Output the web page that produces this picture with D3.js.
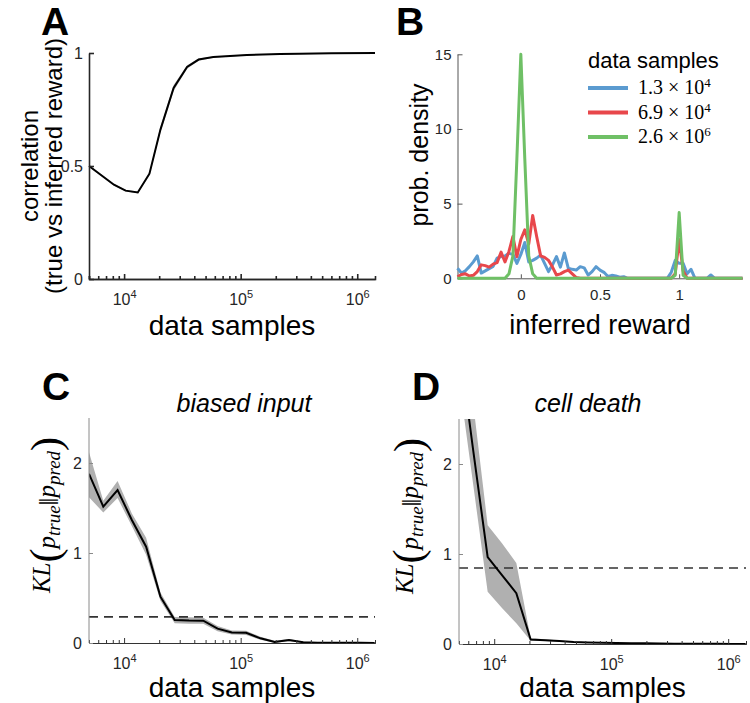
<!DOCTYPE html>
<html><head><meta charset="utf-8">
<script src="https://cdn.jsdelivr.net/npm/d3@7"></script>
<style>body{margin:0;background:#fff}svg{display:block}</style>
</head><body>
<svg id="chart" width="750" height="703"></svg>
<script>
// ---------------- DATA ----------------
// Panel A: correlation vs data samples
const samplesA = [5000, 8180, 10300, 13100, 16500, 20500, 26600, 34700, 43600, 58200, 113000, 217000, 320000, 600000, 1420000];
const corrA    = [0.50, 0.417, 0.391, 0.383, 0.466, 0.661, 0.845, 0.938, 0.971, 0.982, 0.991, 0.996, 0.997, 0.999, 1.0];
const corrLoA  = [0.496, 0.413, 0.387, 0.379, 0.458, 0.648, 0.832, 0.930, 0.966, 0.979, 0.989, 0.995, 0.996, 0.998, 0.999];
const corrHiA  = [0.504, 0.421, 0.395, 0.387, 0.474, 0.674, 0.858, 0.946, 0.976, 0.985, 0.993, 0.997, 0.998, 1.0, 1.0];

// Panel B: histograms of inferred reward
const binCenters = [-0.4,-0.375,-0.35,-0.325,-0.3,-0.275,-0.25,-0.225,-0.2,-0.175,-0.15,-0.125,-0.1,-0.075,-0.05,-0.025,0,0.025,0.05,0.075,0.1,0.125,0.15,0.175,0.2,0.225,0.25,0.275,0.3,0.325,0.35,0.375,0.4,0.425,0.45,0.475,0.5,0.525,0.55,0.575,0.6,0.625,0.65,0.675,0.7,0.725,0.75,0.775,0.8,0.825,0.85,0.875,0.9,0.925,0.95,0.975,1,1.025,1.05,1.075,1.1,1.125,1.15,1.175,1.2,1.225,1.25,1.275,1.3,1.325,1.35,1.375,1.4];
const densBlue  = [0.67,0.35,0.5,0.78,1.1,1.5,0.35,0.5,0.65,0.8,1.35,1.45,1.5,1.67,1.6,1.0,1.6,2.4,1.1,1.2,1.35,1.55,1.0,0.45,0.9,1.45,0.75,1.7,0.67,0.6,0.55,0.78,0.7,0.22,0.45,0.78,0.55,0.4,0.12,0.2,0.15,0.07,0.11,0,0,0,0,0,0,0,0,0,0,0,0.4,1.2,1.0,1.0,0.3,0.6,0,0,0,0,0.22,0,0,0,0,0,0,0,0];
const densRed   = [0.1,0.25,0.3,0.15,0.2,0.45,0.9,0.85,0.75,0.95,1.05,1.75,1.1,1.8,2.8,1.45,2.6,3.25,2.3,4.2,2.8,1.5,1.4,1.2,0.75,0.22,0.3,0.45,0.55,0.3,0.05,0,0,0,0,0,0,0,0,0,0,0,0,0,0,0,0,0,0,0,0,0,0,0,0,0.3,2.6,0.5,0,0,0,0,0,0,0,0,0,0,0,0,0,0,0];
const densGreen = [0,0,0,0,0,0,0,0,0,0,0,0,0,0.3,1.5,8,15,8,1.5,0.3,0,0,0,0,0,0,0,0,0,0,0,0,0,0,0,0,0,0,0,0,0,0,0,0,0,0,0,0,0,0,0,0,0,0,0,0.2,4.4,0.2,0,0,0,0,0,0,0,0,0,0,0,0,0,0,0];
const legendBase = ["1.3", "6.9", "2.6"];
const legendExp  = ["4", "4", "6"];

// Panels C & D: KL divergence vs data samples
const samplesCD = [5000, 6630, 8790, 11650, 15450, 20490, 27170, 36030, 47770, 63340, 84000, 111400, 147700, 195800, 259700, 344300, 456600, 605400, 802800, 1064000, 1411000];
const klC   = [1.88, 1.515, 1.70, 1.367, 1.07, 0.515, 0.256, 0.25, 0.248, 0.16, 0.117, 0.113, 0.052, 0.011, 0.033, 0.008, 0.004, 0.003, 0.002, 0.002, 0.001];
const klLoC = [1.62, 1.45, 1.61, 1.30, 0.98, 0.47, 0.22, 0.215, 0.215, 0.13, 0.095, 0.09, 0.035, 0.003, 0.02, 0.002, 0.001, 0.001, 0, 0, 0];
const klHiC = [2.12, 1.58, 1.80, 1.44, 1.17, 0.56, 0.29, 0.285, 0.28, 0.19, 0.14, 0.135, 0.07, 0.025, 0.045, 0.015, 0.008, 0.005, 0.004, 0.003, 0.002];
const klD   = [3.35, 2.14, 0.965, 0.765, 0.565, 0.05, 0.042, 0.032, 0.022, 0.018, 0.014, 0.011, 0.009, 0.007, 0.005, 0.004, 0.003, 0.002, 0.002, 0.001, 0.001];
const klLoD = [2.94, 1.76, 0.58, 0.40, 0.23, 0.035, 0.032, 0.025, 0.017, 0.013, 0.01, 0.008, 0.006, 0.004, 0.003, 0.002, 0.002, 0.001, 0.001, 0, 0];
const klHiD = [3.9, 2.66, 1.32, 1.12, 0.90, 0.065, 0.052, 0.04, 0.028, 0.023, 0.018, 0.014, 0.012, 0.009, 0.007, 0.006, 0.004, 0.003, 0.003, 0.002, 0.002];
const thresholdC = 0.29;
const thresholdD = 0.845;

// Tick values
const majorTicksLog = [1e4, 1e5, 1e6];
const minorTicksLog = [5000,6000,7000,8000,9000,20000,30000,40000,50000,60000,70000,80000,90000,200000,300000,400000,500000,600000,700000,800000,900000];
const ticksA = [0, 0.5, 1];
const ticksB_x = [0, 0.5, 1];
const ticksB_y = [0, 5, 10, 15];
const ticksKL = [0, 1, 2];

// ---------------- DRAWING ----------------
const svg = d3.select('#chart');
const SANS = "'Liberation Sans', Arial, Helvetica, sans-serif";
const SERIF = "'Liberation Serif', 'Times New Roman', serif";
const TXT = '#262626';
const XLAB = '28px';

function styleAxis(g, color, w) {
  g.select('.domain').attr('stroke', color).attr('stroke-width', w);
  g.selectAll('.tick line').attr('stroke', color).attr('stroke-width', w);
  g.selectAll('.tick text').attr('fill', TXT).style('font-family', SANS);
}

function logXAxis(x, y0, color, w) {
  const gm = svg.append('g').attr('transform', `translate(0,${y0})`)
    .call(d3.axisBottom(x).tickValues(minorTicksLog).tickSize(-3).tickFormat(''));
  styleAxis(gm, color, w);
  const g = svg.append('g').attr('transform', `translate(0,${y0})`)
    .call(d3.axisBottom(x).tickValues(majorTicksLog).tickSize(-5).tickSizeOuter(0));
  styleAxis(g, color, w);
  g.selectAll('.tick text').each(function(d) {
    const t = d3.select(this);
    t.text(null).attr('y', 26).attr('dy', 0).style('font-size', '16px');
    t.append('tspan').text('10');
    t.append('tspan').attr('dy', -7).style('font-size', '11px').text(Math.round(Math.log10(d)));
  });
  return g;
}

function linYAxis(y, x0, ticks, color, w, fmt, fs) {
  const g = svg.append('g').attr('transform', `translate(${x0},0)`)
    .call(d3.axisLeft(y).tickValues(ticks).tickSize(-5).tickSizeOuter(0).tickPadding(6).tickFormat(fmt));
  styleAxis(g, color, w);
  g.selectAll('.tick text').style('font-size', fs);
  return g;
}

function panelLetter(t, x, y) {
  svg.append('text').attr('x', x).attr('y', y).text(t)
    .style('font-family', SANS).style('font-weight', 'bold').style('font-size', '39px').attr('fill', '#000');
}

// ===== Panel A =====
{
  const x = d3.scaleLog().domain([5000, 1420000]).range([89, 375]);
  const y = d3.scaleLinear().domain([0, 1]).range([279, 53]);
  const pts = samplesA.map((s, i) => ({s, v: corrA[i], lo: corrLoA[i], hi: corrHiA[i]}));
  svg.append('path').datum(pts).attr('fill', '#bdbdbd')
    .attr('d', d3.area().x(d => x(d.s)).y0(d => y(d.lo)).y1(d => y(d.hi)));
  svg.append('path').datum(pts).attr('fill', 'none').attr('stroke', '#000').attr('stroke-width', 2)
    .attr('d', d3.line().x(d => x(d.s)).y(d => y(d.v)));
  logXAxis(x, 279, '#262626', 1.6);
  linYAxis(y, 89, ticksA, '#262626', 1.6, d => d, '16px');
  panelLetter('A', 41, 35);
  svg.append('text').attr('transform', 'translate(38,166) rotate(-90)').attr('text-anchor', 'middle')
    .style('font-family', SANS).style('font-size', '24px').attr('fill', '#000').text('correlation');
  svg.append('text').attr('transform', 'translate(62,166) rotate(-90)').attr('text-anchor', 'middle')
    .style('font-family', SANS).style('font-size', '24px').attr('fill', '#000').text('(true vs inferred reward)');
  svg.append('text').attr('x', 232).attr('y', 335).attr('text-anchor', 'middle')
    .style('font-family', SANS).style('font-size', XLAB).attr('fill', '#000').text('data samples');
}

// ===== Panel B =====
{
  const x = d3.scaleLinear().domain([-0.4, 1.4]).range([457.5, 742.5]);
  const y = d3.scaleLinear().domain([0, 15]).range([278.3, 54.3]);
  const gx = svg.append('g').attr('transform', 'translate(0,278.3)')
    .call(d3.axisBottom(x).tickValues(ticksB_x).tickSize(-4).tickSizeOuter(0).tickFormat(d => d));
  styleAxis(gx, '#555', 1);
  gx.selectAll('.tick text').attr('y', 22).attr('dy', 0).style('font-size', '15px');
  linYAxis(y, 457.5, ticksB_y, '#555', 1, d => d, '15px');
  const series = [[densBlue, '#5b9bd0'], [densRed, '#e8474b'], [densGreen, '#6fc066']];
  const line = d3.line().x((d, i) => x(binCenters[i])).y(d => y(d));
  series.forEach(([vals, col]) => {
    svg.append('path').datum(vals).attr('fill', 'none').attr('stroke', col)
      .attr('stroke-width', 3).attr('stroke-linejoin', 'round').attr('d', line);
  });
  panelLetter('B', 396, 35);
  svg.append('text').attr('transform', 'translate(428,155) rotate(-90)').attr('text-anchor', 'middle')
    .style('font-family', SANS).style('font-size', '25px').attr('fill', '#000').text('prob. density');
  svg.append('text').attr('x', 600).attr('y', 334).attr('text-anchor', 'middle')
    .style('font-family', SANS).style('font-size', '27px').attr('fill', '#000').text('inferred reward');
  // legend
  svg.append('text').attr('x', 588).attr('y', 68).style('font-family', SANS).style('font-size', '22px')
    .attr('fill', '#000').text('data samples');
  series.forEach(([vals, col], i) => {
    const yy = 88 + i * 24.5;
    svg.append('line').attr('x1', 588).attr('x2', 628).attr('y1', yy).attr('y2', yy)
      .attr('stroke', col).attr('stroke-width', 4);
    const t = svg.append('text').attr('x', 638).attr('y', yy + 6).style('font-family', SERIF)
      .style('font-size', '20px').attr('fill', '#000');
    t.append('tspan').text(legendBase[i] + ' \u00d7 10');
    t.append('tspan').attr('dy', -7).style('font-size', '13px').text(legendExp[i]);
  });
}

// ===== Panels C & D =====
function klPanel(opt) {
  const x = d3.scaleLog().domain([5000, 1420000]).range([opt.left, opt.right]);
  const y = d3.scaleLinear().domain([0, 2.5]).range([opt.bottom, opt.top]);
  const id = 'clip' + opt.letter;
  svg.append('clipPath').attr('id', id).append('rect')
    .attr('x', opt.left).attr('y', opt.top).attr('width', opt.right - opt.left).attr('height', opt.bottom - opt.top);
  const pts = samplesCD.map((s, i) => ({s, v: opt.mean[i], lo: opt.lo[i], hi: opt.hi[i]}));
  const g = svg.append('g').attr('clip-path', `url(#${id})`);
  g.append('path').datum(pts).attr('fill', '#b0b0b0')
    .attr('d', d3.area().x(d => x(d.s)).y0(d => y(d.lo)).y1(d => y(d.hi)));
  g.append('line').attr('x1', opt.left).attr('x2', opt.right).attr('y1', y(opt.thr)).attr('y2', y(opt.thr))
    .attr('stroke', '#333').attr('stroke-width', 1.6).attr('stroke-dasharray', '9,6');
  g.append('path').datum(pts).attr('fill', 'none').attr('stroke', '#000').attr('stroke-width', 2)
    .attr('d', d3.line().x(d => x(d.s)).y(d => y(d.v)));
  logXAxis(x, opt.bottom, '#333', 1);
  const gy = svg.append('g').attr('transform', `translate(${opt.left},0)`)
    .call(d3.axisLeft(y).tickValues(ticksKL).tickSize(-4).tickSizeOuter(0).tickPadding(7).tickFormat(d => d));
  styleAxis(gy, '#8a8a8a', 1);
  gy.selectAll('.tick text').style('font-size', '16px');
  gy.select('.domain').attr('d', `M0,${opt.bottom}V${opt.top}`);
  panelLetter(opt.letter, opt.left - 47, 400);
  svg.append('text').attr('x', opt.titleX).attr('y', 412).attr('text-anchor', 'middle')
    .style('font-family', SANS).style('font-style', 'italic').style('font-size', '25px').attr('fill', '#000').text(opt.title);
  svg.append('text').attr('x', (opt.left + opt.right) / 2).attr('y', 697).attr('text-anchor', 'middle')
    .style('font-family', SANS).style('font-size', XLAB).attr('fill', '#000').text('data samples');
  // y label: KL(p_true || p_pred)
  const t = svg.append('text').attr('transform', `translate(${opt.labelX},${opt.labelY}) rotate(-90)`)
    .attr('text-anchor', 'middle').style('font-family', SERIF).style('font-size', '25px').attr('fill', '#000');
  t.append('tspan').style('font-style', 'italic').text('KL');
  t.append('tspan').style('font-size', '42px').attr('dy', 9).text('(');
  t.append('tspan').style('font-style', 'italic').attr('dy', -4).text('p');
  t.append('tspan').style('font-style', 'italic').style('font-size', '19px').attr('dy', 5).text('true');
  t.append('tspan').style('font-size', '28px').attr('dy', -2).text('\u2016');
  t.append('tspan').style('font-style', 'italic').attr('dy', -3).text('p');
  t.append('tspan').style('font-style', 'italic').style('font-size', '19px').attr('dy', 5).text('pred');
  t.append('tspan').style('font-size', '42px').attr('dy', 0).text(')');
}

klPanel({letter: 'C', left: 89, right: 375, top: 418, bottom: 643, mean: klC, lo: klLoC, hi: klHiC,
  thr: thresholdC, title: 'biased input', titleX: 244, labelX: 50, labelY: 515});
klPanel({letter: 'D', left: 459, right: 746, top: 419, bottom: 644, mean: klD, lo: klLoD, hi: klHiD,
  thr: thresholdD, title: 'cell death', titleX: 588, labelX: 413, labelY: 516});
</script>
</body></html>
